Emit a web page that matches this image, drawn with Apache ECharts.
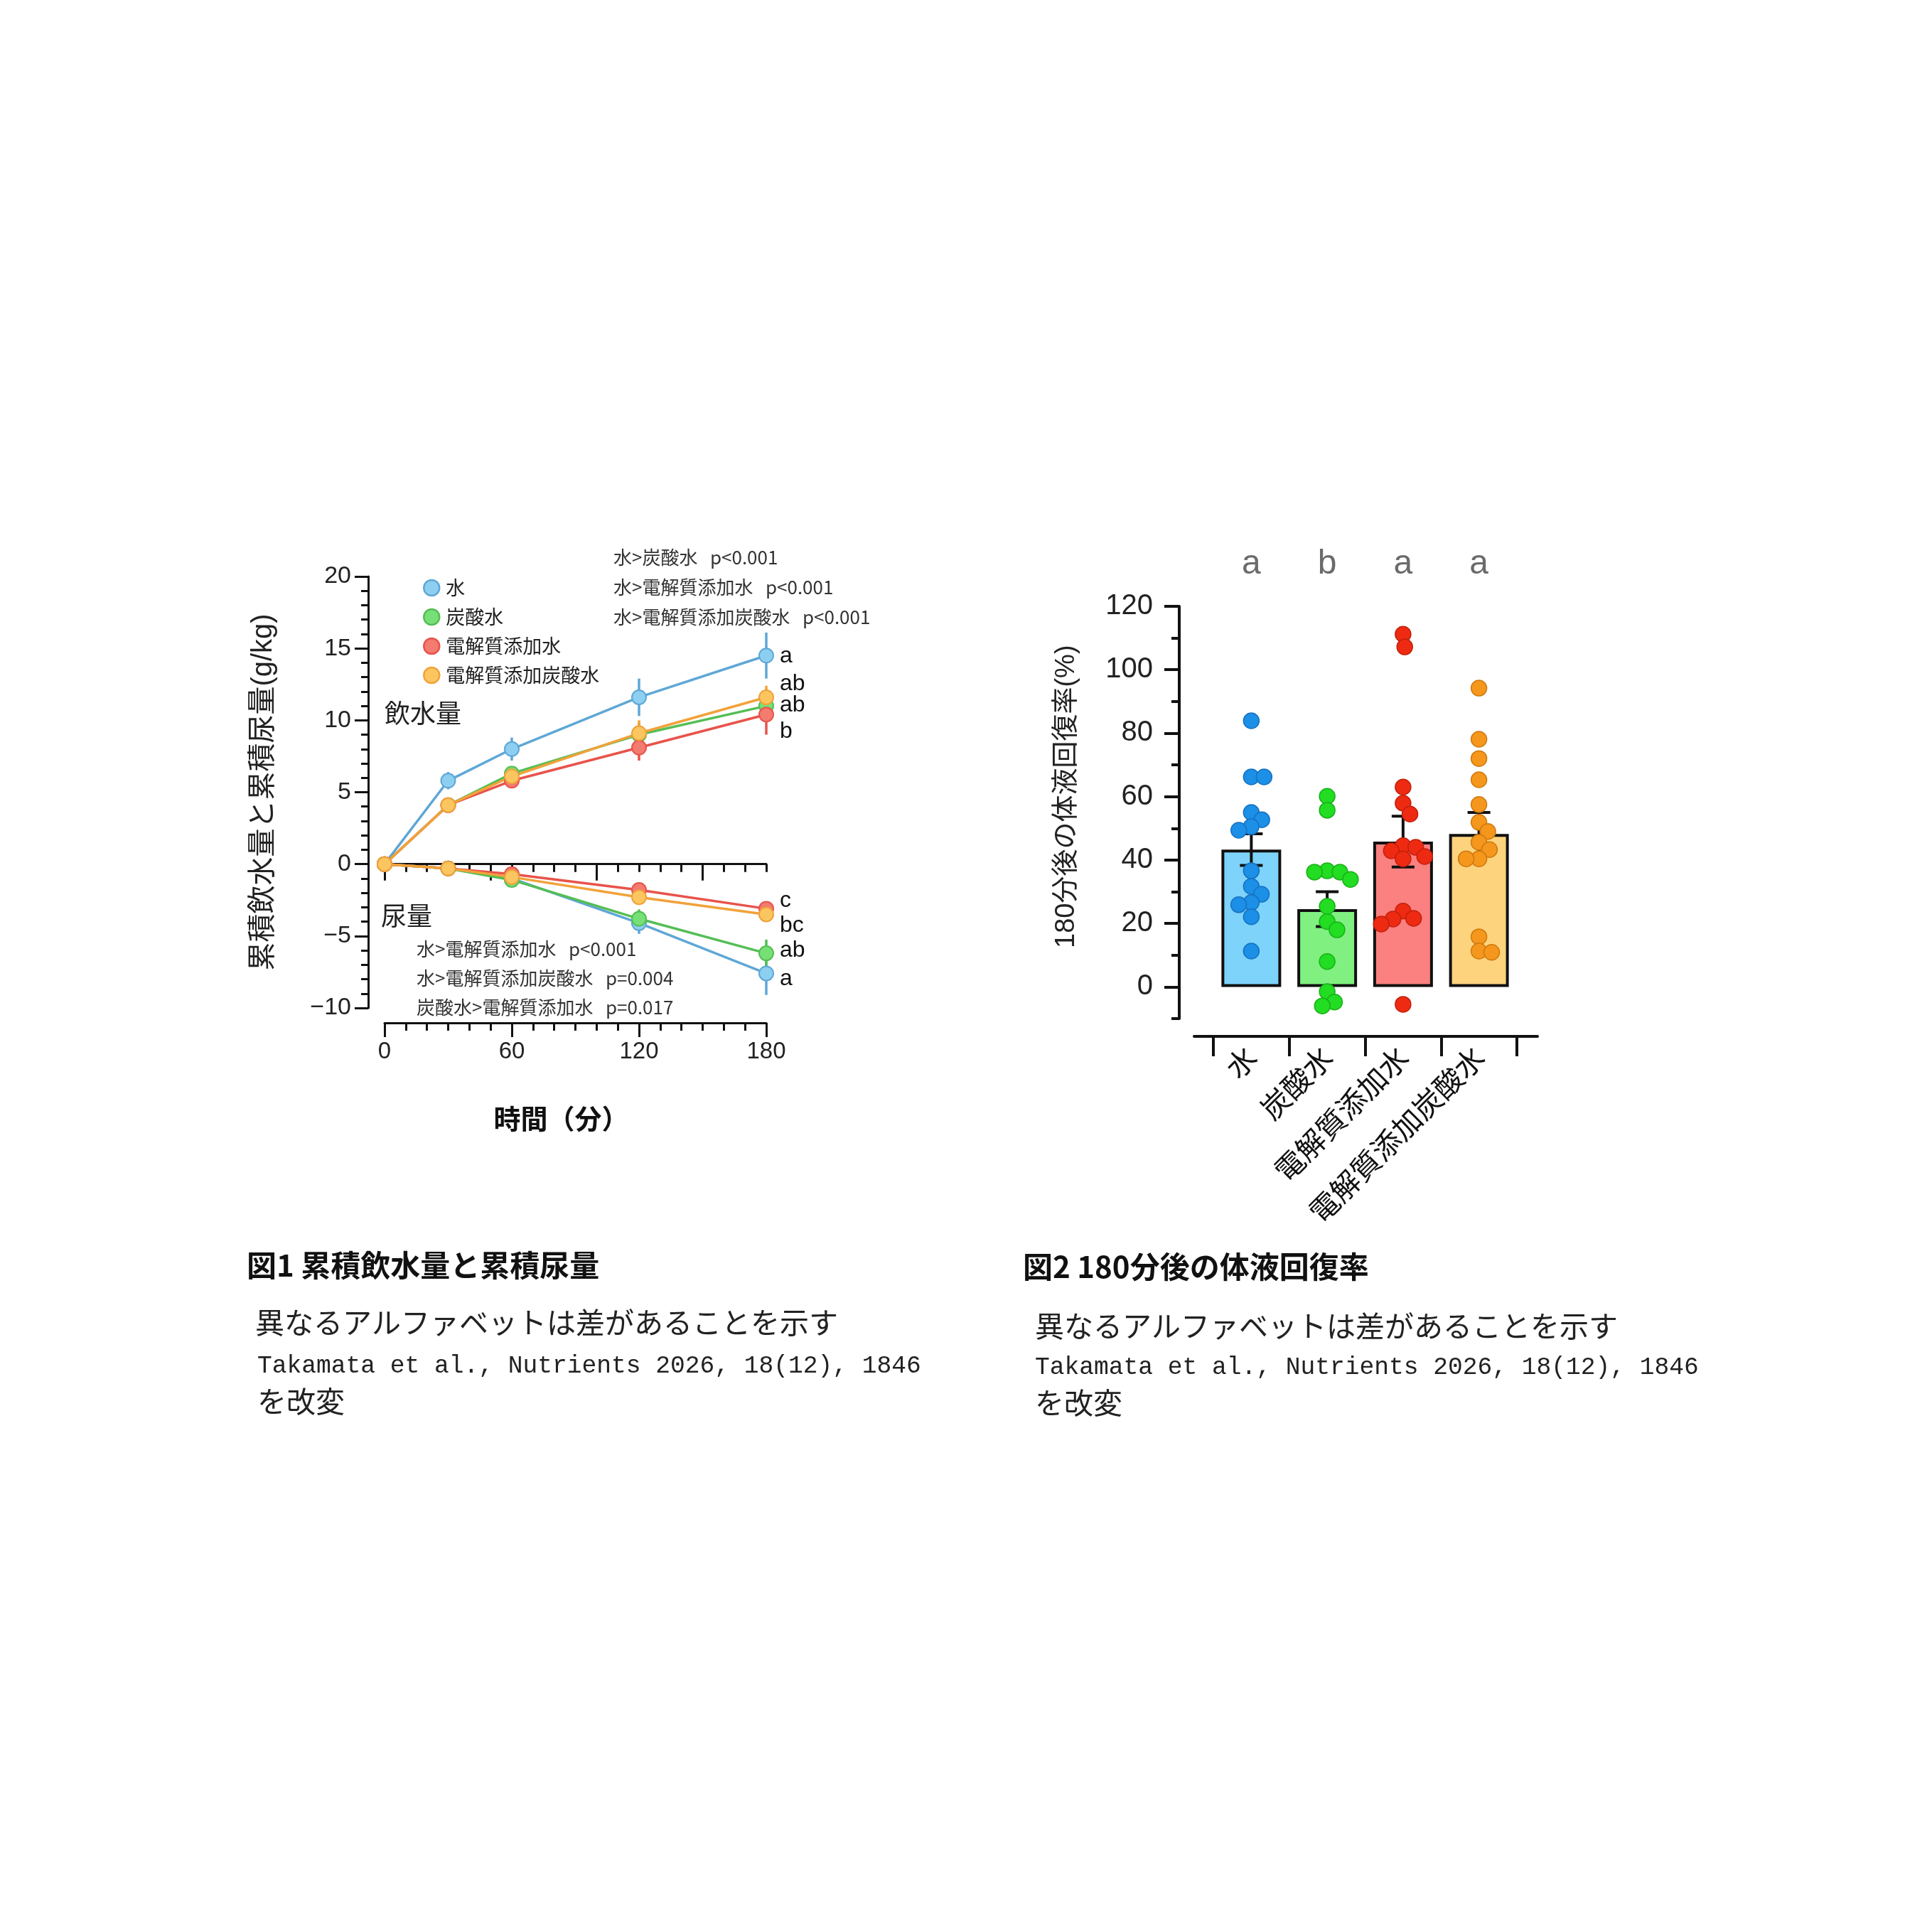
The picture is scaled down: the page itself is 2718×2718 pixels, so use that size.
<!DOCTYPE html>
<html>
<head>
<meta charset="utf-8">
<title>累積飲水量と累積尿量 / 180分後の体液回復率</title>
<script src="https://cdn.jsdelivr.net/npm/echarts@6/dist/echarts.min.js"></script>
<style>
  html, body { margin: 0; padding: 0; background: #fff; }
  #main { width: 2718px; height: 2718px; }
</style>
</head>
<body>
<div id="main"></div>
<script>
// ---- 図1 累積飲水量と累積尿量 ----
const groups = ['水', '炭酸水', '電解質添加水', '電解質添加炭酸水']
const times = [0, 30, 60, 120, 180]

// 飲水量 (g/kg)
const drinkWater = [0, 5.8, 8.0, 11.6, 14.5]
const drinkCarb = [0, 4.1, 6.3, 9.0, 11.0]
const drinkElec = [0, 4.1, 5.8, 8.1, 10.4]
const drinkElecCarb = [0, 4.1, 6.1, 9.1, 11.6]
const drinkWaterErr = [0, 0.6, 0.8, 1.3, 1.6]
const drinkCarbErr = [0, 0.3, 0.5, 0.8, 0.8]
const drinkElecErr = [0, 0.3, 0.5, 0.9, 1.4]
const drinkElecCarbErr = [0, 0.3, 0.4, 0.9, 0.8]

// 尿量 (g/kg)
const urineWater = [0, -0.3, -1.0, -4.1, -7.6]
const urineCarb = [0, -0.3, -1.1, -3.8, -6.2]
const urineElec = [0, -0.3, -0.7, -1.8, -3.1]
const urineElecCarb = [0, -0.3, -0.9, -2.3, -3.5]
const urineWaterErr = [0, 0.15, 0.2, 0.75, 1.5]
const urineCarbErr = [0, 0.15, 0.3, 0.65, 0.95]
const urineElecErr = [0, 0.15, 0.2, 0.3, 0.4]
const urineElecCarbErr = [0, 0.15, 0.2, 0.3, 0.5]

const drinkLetters = ['a', 'ab', 'ab', 'b']
const urineLetters = ['c', 'bc', 'ab', 'a']

// ---- 図2 180分後の体液回復率 (%) ----
const recoveryMean = [43.3, 24.5, 45.8, 48.2]
const recoverySem = [5.0, 5.5, 8.0, 6.8]
const recoveryWater = [83.9, 66.2, 66.2, 55.0, 52.7, 50.5, 49.4, 36.6, 31.7, 29.2, 26.6, 25.9, 22.1, 11.3]
const recoveryCarb = [60.1, 55.7, 36.6, 36.2, 36.2, 33.9, 25.4, 20.6, 18.0, 8.0, -1.5, -4.8, -6.0]
const recoveryElec = [111.2, 107.2, 63.0, 57.9, 54.5, 44.5, 44.0, 42.9, 41.1, 40.4, 23.9, 21.6, 21.4, 19.8, -5.5]
const recoveryElecCarb = [94.2, 78.1, 72.0, 65.3, 57.5, 51.9, 49.0, 45.6, 43.3, 40.4, 40.4, 15.8, 11.3, 10.9]
const recoveryLetters = ['a', 'b', 'a', 'a']

// ---- styles ----
const lineColors = ['#5fa7d6', '#55be55', '#e8534b', '#f1a23a']
const markerFill = ['#8dcff1', '#76e076', '#f37b70', '#fbc660']
const barFill = ['#7dd3fa', '#80f080', '#fb8080', '#fdd37e']
const dotFill = ['#1c8fe6', '#22dd22', '#ee2b12', '#f5971c']
const dotEdge = ['#1672c2', '#19b219', '#c4200c', '#cf7a10']

const FONT = "'Liberation Sans', 'Noto Sans CJK JP', sans-serif"
const JP = "'Noto Sans CJK JP', sans-serif"
const MONO = "'Liberation Mono', 'Noto Sans CJK JP', monospace"
const axisInk = { color: '#111', width: 3 }
const axisInk2 = { color: '#111', width: 4 }

const drinkSets = [drinkWater, drinkCarb, drinkElec, drinkElecCarb]
const drinkErrSets = [drinkWaterErr, drinkCarbErr, drinkElecErr, drinkElecCarbErr]
const urineSets = [urineWater, urineCarb, urineElec, urineElecCarb]
const urineErrSets = [urineWaterErr, urineCarbErr, urineElecErr, urineElecCarbErr]
const recoverySets = [recoveryWater, recoveryCarb, recoveryElec, recoveryElecCarb]

const chartDom = document.getElementById('main')
const myChart = echarts.init(chartDom)

// 縦線のエラーバー (図1)
function errSeries(id, means, errs, color) {
  return {
    type: 'custom',
    name: id,
    xAxisIndex: 0,
    yAxisIndex: 0,
    z: 2,
    silent: true,
    data: times.map((t, k) => [t, means[k], errs[k]]),
    renderItem: function (params, api) {
      const t = api.value(0)
      const m = api.value(1)
      const e = api.value(2)
      if (!e) return null
      const a = api.coord([t, m - e])
      const b = api.coord([t, m + e])
      return {
        type: 'line',
        shape: { x1: a[0], y1: a[1], x2: b[0], y2: b[1] },
        style: { stroke: color, lineWidth: 3.5 },
      }
    },
  }
}

function lineSeries(name, values, g) {
  return {
    type: 'line',
    name: name,
    xAxisIndex: 0,
    yAxisIndex: 0,
    z: 3,
    data: times.map((t, k) => [t, values[k]]),
    symbol: 'circle',
    symbolSize: 20,
    lineStyle: { color: lineColors[g], width: 3.5 },
    itemStyle: { color: markerFill[g], borderColor: lineColors[g], borderWidth: 2 },
  }
}

// 点が重ならないよう横にずらす (beeswarm)、戻り値は px
const pxPerPct = 580 / 130
function swarm(values, gap) {
  const order = values.map((v, i) => i).sort((a, b) => values[b] - values[a])
  const placed = []
  const offsets = values.map(() => 0)
  order.forEach(i => {
    const y = values[i] * pxPerPct
    const near = placed.filter(p => Math.abs(p.y - y) < gap)
    const cands = [0]
    near.forEach(p => {
      const dx = Math.sqrt(gap * gap - (p.y - y) * (p.y - y))
      cands.push(p.x + dx, p.x - dx)
    })
    cands.sort((a, b) => Math.abs(a) - Math.abs(b))
    const x = cands.find(c => near.every(p => (p.x - c) * (p.x - c) + (p.y - y) * (p.y - y) >= gap * gap - 0.5))
    offsets[i] = x
    placed.push({ x: x, y: y })
  })
  return offsets
}

const series = []
groups.forEach((g, i) => {
  series.push(errSeries('err-d' + i, drinkSets[i], drinkErrSets[i], lineColors[i]))
  series.push(errSeries('err-u' + i, urineSets[i], urineErrSets[i], lineColors[i]))
})
groups.forEach((g, i) => {
  series.push(lineSeries(g, drinkSets[i], i))
  series.push(lineSeries(g, urineSets[i], i))
})

// 図2 棒
series.push({
  type: 'bar',
  name: 'bar',
  xAxisIndex: 3,
  yAxisIndex: 2,
  z: 2,
  barWidth: 84,
  data: recoveryMean.map((m, i) => ({
    value: m,
    itemStyle: { color: barFill[i], borderColor: '#111', borderWidth: 4 },
  })),
})
// 図2 エラーバー
series.push({
  type: 'custom',
  name: 'sem',
  xAxisIndex: 3,
  yAxisIndex: 2,
  z: 3,
  data: recoveryMean.map((m, i) => [i, m, recoverySem[i]]),
  renderItem: function (params, api) {
    const i = api.value(0)
    const m = api.value(1)
    const s = api.value(2)
    const top = api.coord([i, m + s])
    const bot = api.coord([i, m - s])
    const w = 16
    const st = { stroke: '#111', lineWidth: 4 }
    return {
      type: 'group',
      children: [
        { type: 'line', shape: { x1: top[0], y1: top[1], x2: bot[0], y2: bot[1] }, style: st },
        { type: 'line', shape: { x1: top[0] - w, y1: top[1], x2: top[0] + w, y2: top[1] }, style: st },
        { type: 'line', shape: { x1: bot[0] - w, y1: bot[1], x2: bot[0] + w, y2: bot[1] }, style: st },
      ],
    }
  },
})
// 図2 個別の点
recoverySets.forEach((vals, g) => {
  const offs = swarm(vals, 18)
  series.push({
    type: 'custom',
    name: 'pt' + g,
    xAxisIndex: 3,
    yAxisIndex: 2,
    z: 5,
    data: vals.map((v, k) => [g, v, offs[k]]),
    renderItem: function (params, api) {
      const c = api.coord([api.value(0), api.value(1)])
      return {
        type: 'circle',
        shape: { cx: c[0] + api.value(2), cy: c[1], r: 11 },
        style: { fill: dotFill[g], stroke: dotEdge[g], lineWidth: 1.5 },
      }
    },
  })
})
// 図2 有意差の文字
series.push({
  type: 'custom',
  name: 'letters',
  xAxisIndex: 3,
  yAxisIndex: 2,
  z: 5,
  silent: true,
  data: recoveryLetters.map((l, i) => [i, 0]),
  renderItem: function (params, api) {
    const c = api.coord([api.value(0), 0])
    return {
      type: 'text',
      x: c[0],
      y: params.coordSys.y - 59,
      style: {
        text: recoveryLetters[params.dataIndex],
        fontSize: 48,
        fontFamily: FONT,
        fill: '#6b6b6b',
        align: 'center',
        verticalAlign: 'middle',
      },
    }
  },
})

function txt(x, y, text, size, extra) {
  return {
    type: 'text',
    x: x,
    y: y,
    silent: true,
    style: Object.assign(
      { text: text, fontSize: size, fontFamily: JP, fill: '#222', verticalAlign: 'middle' },
      extra || {}
    ),
  }
}

const pTop = ['水>炭酸水   p<0.001', '水>電解質添加水   p<0.001', '水>電解質添加炭酸水   p<0.001']
const pBottom = ['水>電解質添加水   p<0.001', '水>電解質添加炭酸水   p=0.004', '炭酸水>電解質添加水   p=0.017']
const drinkLetterY = [923, 962, 992, 1029]
const urineLetterY = [1267, 1302, 1337, 1377]

const graphic = [
  txt(541, 1003, '飲水量', 36),
  txt(536, 1288, '尿量', 36),
]
pTop.forEach((t, i) => graphic.push(txt(863, 784 + i * 42, t, 26, { fill: '#333' })))
pBottom.forEach((t, i) => graphic.push(txt(586, 1335 + i * 41, t, 26, { fill: '#333' })))
drinkLetters.forEach((t, i) => graphic.push(txt(1097, drinkLetterY[i], t, 32, { fontFamily: FONT, fill: '#111' })))
urineLetters.forEach((t, i) => graphic.push(txt(1097, urineLetterY[i], t, 32, { fontFamily: FONT, fill: '#111' })))

// キャプション
const cite = 'Takamata et al., Nutrients 2026, 18(12), 1846'
graphic.push(
  txt(347, 1780, '図1 累積飲水量と累積尿量', 42, { fontWeight: 'bold', fill: '#111' }),
  txt(359, 1860, '異なるアルファベットは差があることを示す', 41),
  txt(362, 1922, cite, 34.6, { fontFamily: MONO }),
  txt(362, 1971, 'を改変', 41),
  txt(1439, 1782, '図2 180分後の体液回復率', 42, { fontWeight: 'bold', fill: '#111' }),
  txt(1456, 1865, '異なるアルファベットは差があることを示す', 41),
  txt(1456, 1924, cite, 34.6, { fontFamily: MONO }),
  txt(1456, 1973, 'を改変', 41)
)

const hiddenValue = (gridIndex) => ({ gridIndex: gridIndex, type: 'value', min: 0, max: 1, show: false })

const option = {
  backgroundColor: '#ffffff',
  animation: false,
  textStyle: { fontFamily: FONT },
  grid: [
    { left: 541, top: 811, width: 537, height: 607 }, // 0 図1 本体
    { left: 541, top: 1195, width: 447.5, height: 20.67 }, // 1 図1 y=0 の長い目盛 (0-150)
    { left: 1707, top: 853, width: 427, height: 580 }, // 2 図2 棒
    { left: 1707, top: 853, width: 427, height: 535.38 }, // 3 図2 0-120 のラベル
    { left: 1680, top: 853, width: 483, height: 580 }, // 4 図2 x軸の線
  ],
  legend: {
    orient: 'vertical',
    left: 590,
    top: 807,
    itemWidth: 22,
    itemHeight: 22,
    itemGap: 11,
    icon: 'circle',
    textStyle: { fontSize: 27, fontFamily: JP, color: '#222', lineHeight: 30, padding: [0, 0, 0, 4] },
    data: groups.map((g, i) => ({
      name: g,
      itemStyle: { color: markerFill[i], borderColor: lineColors[i], borderWidth: 2.5 },
    })),
  },
  xAxis: [
    {
      // 0 図1 時間軸
      gridIndex: 0,
      type: 'value',
      min: 0,
      max: 180,
      interval: 60,
      position: 'bottom',
      offset: 21,
      axisLine: { show: true, onZero: false, lineStyle: axisInk },
      axisTick: { show: true, length: 20, lineStyle: axisInk },
      minorTick: { show: true, splitNumber: 6, length: 11, lineStyle: axisInk },
      splitLine: { show: false },
      minorSplitLine: { show: false },
      axisLabel: { fontSize: 33, color: '#222', margin: 24 },
      name: '時間（分）',
      nameLocation: 'middle',
      nameGap: 116,
      nameTextStyle: { fontSize: 38, fontWeight: 'bold', color: '#111', fontFamily: JP, padding: [0, 40, 0, 0] },
    },
    {
      // 1 図1 y=0 の線
      gridIndex: 0,
      type: 'value',
      min: 0,
      max: 180,
      interval: 10,
      position: 'bottom',
      axisLine: { show: true, onZero: true, onZeroAxisIndex: 0, lineStyle: axisInk },
      axisTick: { show: true, length: 11, lineStyle: axisInk },
      axisLabel: { show: false },
      splitLine: { show: false },
    },
    {
      // 2 図1 y=0 の長い目盛
      gridIndex: 1,
      type: 'value',
      min: 0,
      max: 150,
      interval: 50,
      position: 'bottom',
      axisLine: { show: false, onZero: false },
      axisTick: { show: true, length: 23, lineStyle: axisInk },
      axisLabel: { show: false },
      splitLine: { show: false },
    },
    {
      // 3 図2 カテゴリ
      gridIndex: 2,
      type: 'category',
      data: groups,
      position: 'bottom',
      offset: 25,
      axisLine: { show: false, onZero: false },
      axisTick: { show: true, length: 28, lineStyle: axisInk2 },
      axisLabel: { rotate: 45, interval: 0, fontSize: 41, color: '#111', margin: 22, fontFamily: JP },
      splitLine: { show: false },
    },
    {
      // 4 図2 x軸の線
      gridIndex: 4,
      type: 'value',
      min: 0,
      max: 1,
      position: 'bottom',
      offset: 25,
      axisLine: { show: true, onZero: false, lineStyle: axisInk2 },
      axisTick: { show: false },
      axisLabel: { show: false },
      splitLine: { show: false },
    },
    hiddenValue(3),
  ],
  yAxis: [
    {
      // 0 図1
      gridIndex: 0,
      type: 'value',
      min: -10,
      max: 20,
      interval: 5,
      position: 'left',
      offset: 23,
      axisLine: { show: true, onZero: false, lineStyle: axisInk },
      axisTick: { show: true, length: 19, lineStyle: axisInk },
      minorTick: { show: true, splitNumber: 5, length: 10, lineStyle: axisInk },
      splitLine: { show: false },
      minorSplitLine: { show: false },
      axisLabel: {
        fontSize: 34,
        color: '#222',
        margin: 24,
        formatter: function (v) {
          return String(v).replace('-', '\u2212')
        },
      },
      name: '累積飲水量と累積尿量(g/kg)',
      nameLocation: 'middle',
      nameRotate: 90,
      nameGap: 127,
      nameTextStyle: { fontSize: 40, color: '#222' },
    },
    hiddenValue(1),
    {
      // 2 図2 軸線と細かい目盛
      gridIndex: 2,
      type: 'value',
      min: -10,
      max: 120,
      interval: 10,
      position: 'left',
      offset: 48,
      axisLine: { show: true, onZero: false, lineStyle: axisInk2 },
      axisTick: { show: true, length: 11, lineStyle: axisInk2 },
      axisLabel: { show: false },
      splitLine: { show: false },
    },
    {
      // 3 図2 ラベルと長い目盛
      gridIndex: 3,
      type: 'value',
      min: 0,
      max: 120,
      interval: 20,
      position: 'left',
      offset: 48,
      axisLine: { show: false, onZero: false },
      axisTick: { show: true, length: 21, lineStyle: axisInk2 },
      axisLabel: { fontSize: 40, color: '#222', margin: 37 },
      splitLine: { show: false },
      name: '180分後の体液回復率(%)',
      nameLocation: 'middle',
      nameRotate: 90,
      nameGap: 139,
      nameTextStyle: { fontSize: 38, color: '#222' },
    },
    hiddenValue(4),
  ],
  graphic: graphic,
  series: series,
}

myChart.setOption(option)

window.onresize = function () {
  myChart.resize()
}
</script>
</body>
</html>
